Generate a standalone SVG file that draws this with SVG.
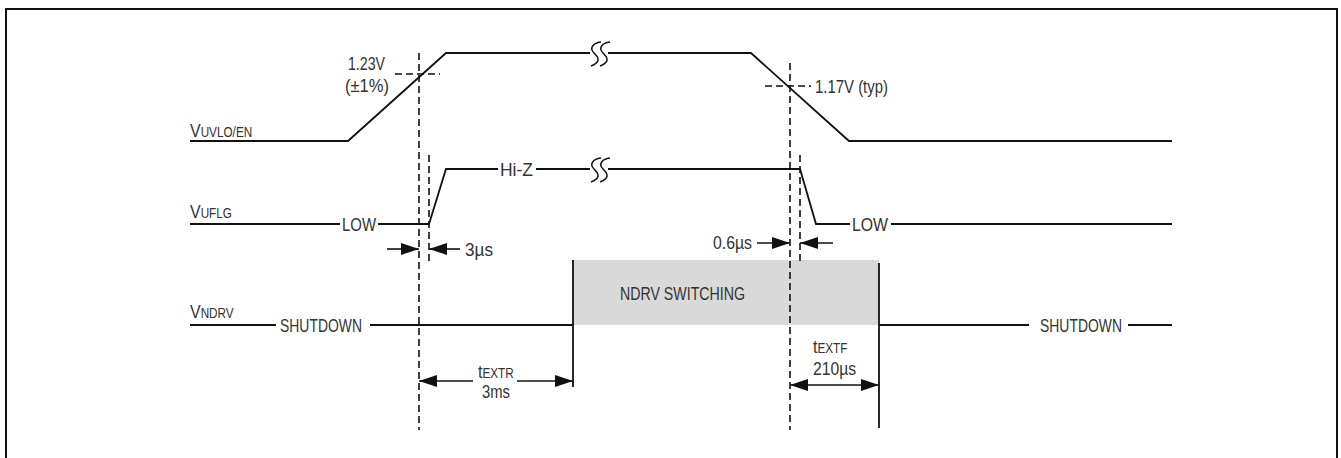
<svg xmlns="http://www.w3.org/2000/svg" width="1341" height="458" viewBox="0 0 1341 458">
<defs>
<marker id="ah" viewBox="0 0 18 12" refX="18" refY="6" markerWidth="18" markerHeight="12" markerUnits="userSpaceOnUse" orient="auto-start-reverse">
<path d="M0,0 L18,6 L0,12 z" fill="#111"/>
</marker>
<style>
.w{fill:none;stroke:#111;stroke-width:1.8;stroke-linejoin:miter}
.d{fill:none;stroke:#111;stroke-width:1.6;stroke-dasharray:7 4}
.a{fill:none;stroke:#111;stroke-width:1.6;marker-end:url(#ah)}
.brk{fill:none;stroke:#111;stroke-width:1.5}
.t{font-family:"Liberation Sans",Arial,sans-serif;font-size:19px;fill:#333}
.s{font-size:14px}
</style>
</defs>
<rect x="6" y="9" width="1331" height="470" fill="#fff" stroke="#111" stroke-width="2"/>

<g id="ndrv-box">
<rect x="573" y="260" width="306" height="65" fill="#d9d9d9"/>
<text class="t" x="620" y="300" textLength="125" lengthAdjust="spacingAndGlyphs">NDRV SWITCHING</text>
</g>

<g id="vuvlo">
<text class="t" transform="translate(190,137) scale(0.84,1)">V<tspan class="s">UVLO/EN</tspan></text>
<polyline class="w" points="190,141 348,141 446,53 590,53"/>
<polyline class="w" points="608,53 751,53 849,141 1172,141"/>
<path class="brk" d="M601,42 C593,43 589,48 594,53 C599,58 601,62 591,66"/>
<path class="brk" d="M610,42 C602,43 598,48 603,53 C608,58 610,62 600,66"/>
<text class="t" x="348" y="70" textLength="37" lengthAdjust="spacingAndGlyphs">1.23V</text>
<text class="t" x="345" y="92" textLength="44" lengthAdjust="spacingAndGlyphs">(±1%)</text>
<text class="t" x="815" y="93" textLength="73" lengthAdjust="spacingAndGlyphs">1.17V (typ)</text>
</g>

<g id="vuflg">
<text class="t" transform="translate(190,218) scale(0.84,1)">V<tspan class="s">UFLG</tspan></text>
<polyline class="w" points="190,224 340,224"/>
<text class="t" x="342" y="231" textLength="34" lengthAdjust="spacingAndGlyphs">LOW</text>
<polyline class="w" points="378,224 429,224 446,169 498,169"/>
<text class="t" x="500" y="176" textLength="33" lengthAdjust="spacingAndGlyphs">Hi-Z</text>
<polyline class="w" points="536,169 590,169"/>
<polyline class="w" points="608,169 800,169 816,224 850,224"/>
<path class="brk" d="M601,158 C593,159 589,164 594,169 C599,174 601,178 591,182"/>
<path class="brk" d="M610,158 C602,159 598,164 603,169 C608,174 610,178 600,182"/>
<text class="t" x="852" y="231" textLength="36" lengthAdjust="spacingAndGlyphs">LOW</text>
<polyline class="w" points="891,224 1172,224"/>
</g>

<g id="vndrv">
<text class="t" transform="translate(190,318) scale(0.84,1)">V<tspan class="s">NDRV</tspan></text>
<polyline class="w" points="190,325 276,325"/>
<text class="t" x="280" y="332" textLength="82" lengthAdjust="spacingAndGlyphs">SHUTDOWN</text>
<polyline class="w" points="370,325 573,325"/>
<polyline class="w" points="573,260 573,387"/>
<polyline class="w" points="879,263 879,428"/>
<polyline class="w" points="879,325 1029,325"/>
<text class="t" x="1040" y="332" textLength="82" lengthAdjust="spacingAndGlyphs">SHUTDOWN</text>
<polyline class="w" points="1128,325 1172,325"/>
</g>

<g id="connectors">
<line class="d" x1="419" y1="53" x2="419" y2="430"/>
<line class="d" x1="429" y1="155" x2="429" y2="262"/>
<line class="d" x1="790" y1="63" x2="790" y2="430"/>
<line class="d" x1="800" y1="155" x2="800" y2="262"/>
<line class="d" x1="395" y1="74" x2="440" y2="74"/>
<line class="d" x1="765" y1="86" x2="811" y2="86"/>
<line class="a" x1="387" y1="249" x2="419" y2="249"/>
<line class="a" x1="460" y1="249" x2="429" y2="249"/>
<text class="t" x="465" y="256" textLength="28" lengthAdjust="spacingAndGlyphs">3µs</text>
<text class="t" x="713" y="249" textLength="39" lengthAdjust="spacingAndGlyphs">0.6µs</text>
<line class="a" x1="757" y1="243" x2="790" y2="243"/>
<line class="a" x1="833" y1="243" x2="800" y2="243"/>
<line class="a" x1="473" y1="381" x2="419" y2="381"/>
<line class="a" x1="517" y1="381" x2="573" y2="381"/>
<text class="t" transform="translate(478,378) scale(0.84,1)">t<tspan class="s">EXTR</tspan></text>
<text class="t" x="482" y="398" textLength="28" lengthAdjust="spacingAndGlyphs">3ms</text>
<line class="a" x1="790" y1="385" x2="879" y2="385" style="marker-start:url(#ah)"/>
<text class="t" transform="translate(813,353) scale(0.84,1)">t<tspan class="s">EXTF</tspan></text>
<text class="t" x="813" y="375" textLength="43" lengthAdjust="spacingAndGlyphs">210µs</text>
</g>
</svg>
